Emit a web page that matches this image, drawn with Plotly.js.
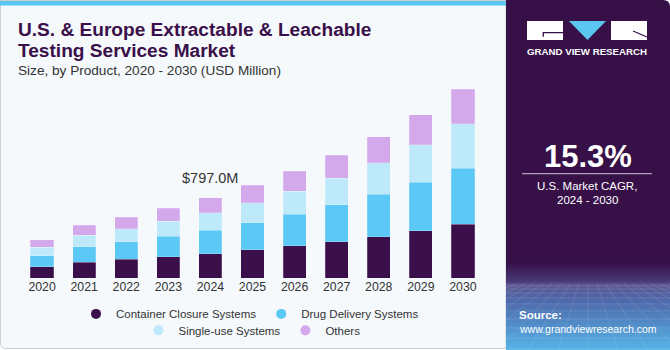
<!DOCTYPE html>
<html><head><meta charset="utf-8">
<script src="https://cdn.plot.ly/plotly-3.0.1.min.js"></script>
<style>
html,body{margin:0;padding:0;background:#ffffff;}
#wrap{position:relative;width:670px;height:350px;overflow:hidden;}
#bg{position:absolute;left:0;top:0;}
#chart{position:absolute;left:0;top:0;width:670px;height:350px;}
</style></head><body>
<div id="wrap">
<svg id="bg" width="670" height="350" xmlns="http://www.w3.org/2000/svg">
 <defs>
  <linearGradient id="pg" x1="0" y1="0" x2="0" y2="1">
    <stop offset="0" stop-color="#371047"/>
    <stop offset="0.75" stop-color="#371047"/>
    <stop offset="0.805" stop-color="#4a3a78"/>
    <stop offset="0.812" stop-color="#5c5690"/>
    <stop offset="0.86" stop-color="#4e69ab"/>
    <stop offset="1" stop-color="#56b4e8"/>
  </linearGradient>
  <clipPath id="pc"><path d="M506,0 H663 Q670,0 670,7 V350 H506 Z"/></clipPath>
 </defs>
 <path d="M0.5,0.5 H506 V348.5 H6 Q0.5,348.5 0.5,343 Z" fill="#f5f9fc" stroke="#cdd1d6"/>
 <rect x="0" y="0" width="506" height="1" fill="#c8ccd0"/>
 <rect x="0" y="1" width="506" height="4.5" fill="#5bc6f0"/>
 <g clip-path="url(#pc)">
  <rect x="506" y="0" width="164" height="350" fill="url(#pg)"/>
  <g id="grid" stroke="rgba(255,255,255,0.16)" stroke-width="0.7" fill="none"></g>
 </g>
 <line x1="522" y1="173.7" x2="652" y2="173.7" stroke="rgba(255,255,255,0.75)" stroke-width="1"/>
 <rect x="527" y="21" width="36" height="19" fill="#ffffff"/>
 <path d="M543.3,36.7 V32.7 H563" stroke="#371047" stroke-width="1.3" fill="none"/>
 <polygon points="569,21 606,21 587.5,40" fill="#5bc6f0"/>
 <rect x="611" y="21" width="36" height="19" fill="#ffffff"/>
 <line x1="633" y1="31" x2="647" y2="37" stroke="#371047" stroke-width="1.3"/>
</svg>
<div id="chart"></div></div>
<script>
// decorative perspective grid in the panel footer
(function(){
  var g = document.getElementById('grid'), s = '';
  var hs = [286, 289, 293, 298, 304, 311, 319, 328, 338, 349];
  hs.forEach(function(y){ s += '<line x1="506" y1="'+y+'" x2="670" y2="'+y+'"/>'; });
  for (var i = -12; i <= 12; i++) {
    var xt = 588 + i * 9, xb = 588 + i * 30;
    s += '<line x1="'+xt+'" y1="284" x2="'+xb+'" y2="350"/>';
  }
  g.innerHTML = s;
})();

// ---- data ----
var years = ['2020','2021','2022','2023','2024','2025','2026','2027','2028','2029','2030'];
var containerClosure = [110,159,185,212,241,279,319,362,411,468,535];
var drugDelivery     = [110,152,176,202,232,272,316,365,421,485,558];
var singleUse        = [87,113,129,149,175,196,229,266,316,375,445];
var others           = [73,103,117,132,149,176,199,229,259,299,339];
var seriesNames = ['Container Closure Systems','Drug Delivery Systems','Single-use Systems','Others'];
var colors = ['#3a0f4a','#5bc8f5','#bde9fa','#d4a9ec'];
var highlightYear = '2024';

var W = 670, H = 350, ml = 21, mr = 186, mt = 80, mb = 71.5;
var pw = W - ml - mr, ph = H - mt - mb;
function px(x){ return (x - ml) / pw; }
function py(y){ return (H - mb - y) / ph; }

var FONT = 'Liberation Sans, Arial, Helvetica, sans-serif';
var seriesVals = [containerClosure, drugDelivery, singleUse, others];
var traces = [];
seriesVals.forEach(function(v, i){
  traces.push({
    type: 'bar', x: years, y: v, name: seriesNames[i],
    marker: {color: colors[i], line: {color: 'rgba(255,255,255,0.35)', width: 0.6}},
    showlegend: false, hoverinfo: 'skip'
  });
});
// legend-only circle markers (kept below the visible y range)
seriesVals.forEach(function(v, i){
  traces.push({
    type: 'scatter', mode: 'markers', x: [years[0]], y: [-5000], name: seriesNames[i],
    marker: {color: colors[i], size: 10, symbol: 'circle'}, cliponaxis: true,
    legend: i < 2 ? 'legend' : 'legend2', hoverinfo: 'skip'
  });
});

var hi = years.indexOf(highlightYear);
var hiTotal = seriesVals.reduce(function(s, v){ return s + v[hi]; }, 0);

function ann(text, x, y, size, color, opts){
  var a = {text: text, x: px(x), y: py(y), xref: 'paper', yref: 'paper',
    showarrow: false, xanchor: 'left', yanchor: 'middle',
    font: {family: FONT, size: size, color: color}};
  for (var k in (opts || {})) a[k] = opts[k];
  return a;
}

var annotations = [
  ann('<b>U.S. & Europe Extractable & Leachable</b>', 16, 29, 19.1, '#3a0f4a'),
  ann('<b>Testing Services Market</b>', 16, 50, 19.1, '#3a0f4a'),
  ann('Size, by Product, 2020 - 2030 (USD Million)', 16, 70, 13.6, '#333333'),
  {text: '$' + hiTotal.toFixed(1) + 'M', x: hi, y: hiTotal, xref: 'x', yref: 'y',
   showarrow: false, yanchor: 'bottom', yshift: 10,
   font: {family: FONT, size: 14.5, color: '#333333'}},
  ann('<b>15.3%</b>', 587.5, 156.7, 31, '#ffffff', {xanchor: 'center'}),
  ann('U.S. Market CAGR,', 587, 186, 11.5, '#ffffff', {xanchor: 'center'}),
  ann('2024 - 2030', 587, 200, 11.5, '#ffffff', {xanchor: 'center'}),
  ann('<b>GRAND VIEW RESEARCH</b>', 587, 51.3, 9.7, '#ffffff', {xanchor: 'center'}),
  ann('<b>Source:</b>', 517, 315.7, 11.5, '#ffffff'),
  ann('www.grandviewresearch.com', 517, 330, 10.5, '#ffffff')
];

var legendBase = {orientation: 'h', xanchor: 'center', yanchor: 'middle', traceorder: 'normal',
  font: {family: FONT, size: 11.5, color: '#333333'}, bgcolor: 'rgba(0,0,0,0)'};
var layout = {
  width: W, height: H,
  margin: {l: ml, r: mr, t: mt, b: mb, pad: 0, autoexpand: false},
  paper_bgcolor: 'rgba(0,0,0,0)', plot_bgcolor: 'rgba(0,0,0,0)',
  barmode: 'stack', bargap: 0.45,
  font: {family: FONT, color: '#333333'},
  xaxis: {type: 'category', categoryorder: 'array', categoryarray: years,
    range: [-0.5, years.length - 0.5], automargin: false,
    showgrid: false, zeroline: false, showline: false, ticks: '',
    tickfont: {family: FONT, size: 12.3, color: '#333333'}, fixedrange: true},
  yaxis: {range: [0, ph * 9.93], visible: false, automargin: false, showgrid: false, zeroline: false, fixedrange: true},
  legend: Object.assign({}, legendBase, {x: px(250), y: py(314.5)}),
  legend2: Object.assign({}, legendBase, {x: px(252), y: py(331)}),
  annotations: annotations,
  showlegend: true
};

Plotly.newPlot('chart', traces, layout, {displayModeBar: false, staticPlot: true});
</script>
</body></html>
